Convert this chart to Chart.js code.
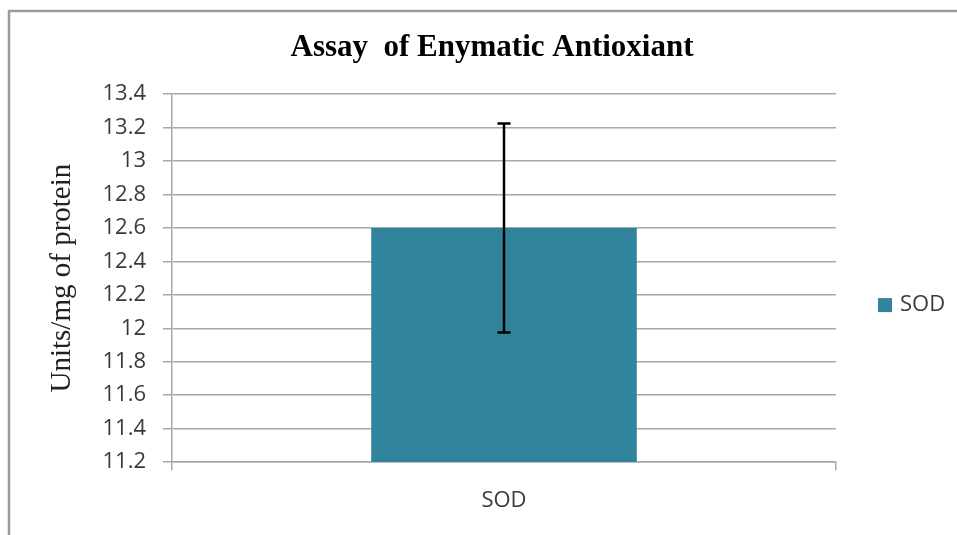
<!DOCTYPE html>
<html>
<head>
<meta charset="utf-8">
<script src="https://cdn.jsdelivr.net/npm/chart.js@4.4.1/dist/chart.umd.min.js"></script>
<style>
html,body{margin:0;padding:0;background:#fff;overflow:hidden}
#wrap{position:absolute;left:0;top:0;width:957px;height:535px}
</style>
</head>
<body>
<div id="wrap"><canvas id="c" width="957" height="535"></canvas></div>
<script>
// ---- data ----
const categories = ['SOD'];
const seriesLabel = 'SOD';
const sodValues = [12.6];
const sodErrors = [0.625];
const yTickValues = [11.2, 11.4, 11.6, 11.8, 12, 12.2, 12.4, 12.6, 12.8, 13, 13.2, 13.4];
const chartTitle = 'Assay  of Enymatic Antioxiant';
const yAxisTitle = 'Units/mg of protein';

// ---- styles ----
const barColor = '#31849b';
const gridColor = '#a8a8a8';
const textColor = '#3a3a3a';

const frame = {
  id: 'frame',
  beforeDraw(chart) {
    const ctx = chart.ctx;
    ctx.save();
    ctx.fillStyle = '#fff';
    ctx.fillRect(0, 0, chart.width, chart.height);
    ctx.strokeStyle = '#9a9a9a';
    ctx.lineWidth = 2.5;
    ctx.strokeRect(9, 11, 1200, 1200);
    ctx.restore();
  }
};

const errorBars = {
  id: 'errorBars',
  afterDatasetsDraw(chart) {
    const ctx = chart.ctx;
    const ys = chart.scales.y;
    chart.data.datasets.forEach((ds, i) => {
      if (!ds.errors) return;
      const meta = chart.getDatasetMeta(i);
      meta.data.forEach((bar, j) => {
        const v = ds.data[j], e = ds.errors[j];
        const top = ys.getPixelForValue(v + e);
        const bot = ys.getPixelForValue(v - e);
        ctx.save();
        ctx.strokeStyle = '#000';
        ctx.lineWidth = 2.5;
        ctx.beginPath();
        ctx.moveTo(bar.x, top); ctx.lineTo(bar.x, bot);
        ctx.moveTo(bar.x - 6.5, top); ctx.lineTo(bar.x + 6.5, top);
        ctx.moveTo(bar.x - 6.5, bot); ctx.lineTo(bar.x + 6.5, bot);
        ctx.stroke();
        ctx.restore();
      });
    });
  }
};

const sideLegend = {
  id: 'sideLegend',
  afterDraw(chart) {
    const ctx = chart.ctx;
    const ca = chart.chartArea;
    const x = ca.right + 42;
    const yMid = (ca.top + ca.bottom) / 2 + 27;
    chart.data.datasets.forEach((ds) => {
      ctx.save();
      ctx.fillStyle = ds.backgroundColor;
      ctx.fillRect(x, yMid - 7, 14, 14);
      ctx.fillStyle = textColor;
      ctx.font = '22px "Open Sans"';
      ctx.textBaseline = 'middle';
      ctx.textAlign = 'left';
      ctx.fillText(ds.label, x + 22, yMid);
      ctx.restore();
    });
  }
};

new Chart(document.getElementById('c'), {
  type: 'bar',
  data: {
    labels: categories,
    datasets: [{
      label: seriesLabel,
      data: sodValues,
      errors: sodErrors,
      backgroundColor: barColor,
      borderWidth: 0,
      barPercentage: 0.4,
      categoryPercentage: 1.0
    }]
  },
  options: {
    responsive: false,
    animation: false,
    layout: { padding: { left: 27, right: 0, top: 0, bottom: 0 } },
    plugins: {
      legend: { display: false },
      tooltip: { enabled: false },
      title: {
        display: true,
        text: chartTitle,
        color: '#000',
        font: { family: 'Liberation Serif', size: 31, weight: 'bold' },
        padding: { top: 29, bottom: 28 }
      }
    },
    scales: {
      x: {
        grid: { display: true, drawOnChartArea: false, drawTicks: true, tickLength: 8, color: gridColor, lineWidth: 1.5, offset: true },
        border: { display: true, color: gridColor, width: 1.5 },
        ticks: { color: textColor, font: { family: 'Open Sans', size: 22 }, padding: 18 },
        afterFit(s) { s.height = 73; }
      },
      y: {
        min: 11.2,
        max: 13.4,
        afterBuildTicks(s) { s.ticks = yTickValues.map(v => ({ value: v })); },
        grid: { color: gridColor, lineWidth: 1.5, tickLength: 9, drawTicks: true },
        border: { display: true, color: gridColor, width: 1.5 },
        ticks: {
          color: textColor,
          font: { family: 'Open Sans', size: 22 },
          padding: 17,
          callback: (v) => String(+Number(v).toFixed(1))
        },
        title: {
          display: true,
          text: yAxisTitle,
          color: '#222',
          font: { family: 'Liberation Serif', size: 29 },
          padding: { top: 18, bottom: 0 }
        },
        afterFit(s) { s.width = 145; }
      },
      legendSpace: {
        type: 'linear',
        position: 'right',
        display: true,
        grid: { display: false, drawTicks: false },
        border: { display: false },
        ticks: { display: false },
        afterFit(s) { s.width = 121; }
      }
    }
  },
  plugins: [frame, errorBars, sideLegend]
});
</script>
</body>
</html>
